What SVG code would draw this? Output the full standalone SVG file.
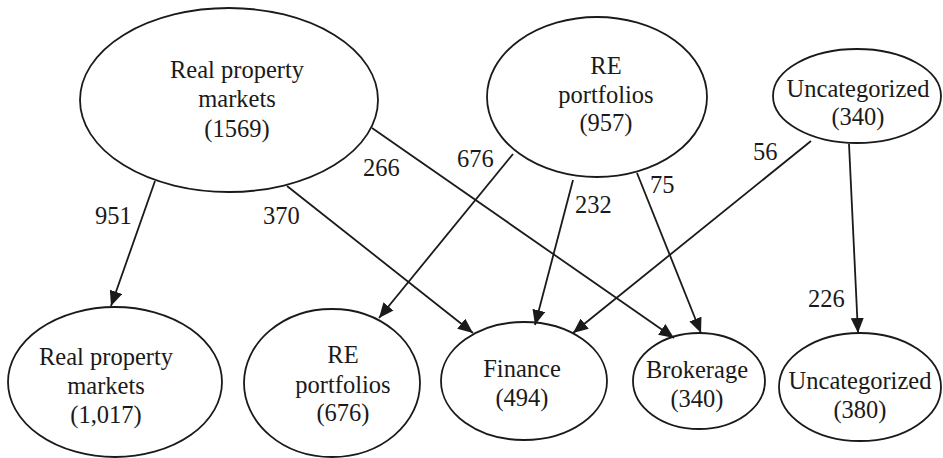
<svg xmlns="http://www.w3.org/2000/svg" width="943" height="458" viewBox="0 0 943 458">
<style>
.n{fill:none;stroke:#1a1a1a;stroke-width:1.8}
.t{font-family:"Liberation Serif","Times New Roman",serif;font-size:24.5px;fill:#1a1a1a;text-anchor:middle}
.l{font-family:"Liberation Serif","Times New Roman",serif;font-size:24.5px;fill:#1a1a1a}
.e{stroke:#1a1a1a;stroke-width:1.8;fill:none;marker-end:url(#ah)}
</style>
<defs>
<marker id="ah" markerUnits="userSpaceOnUse" markerWidth="16" markerHeight="13" refX="15" refY="6.5" orient="auto">
<path d="M0,0 L15,6.5 L0,13 z" fill="#1a1a1a"/>
</marker>
</defs>
<rect width="943" height="458" fill="#ffffff"/>
<g id="edges">
<line class="e" x1="155" y1="181" x2="111" y2="306"/>
<line class="e" x1="287" y1="186" x2="473" y2="333"/>
<line class="e" x1="372" y1="128" x2="674" y2="338"/>
<line class="e" x1="513" y1="154" x2="379" y2="318"/>
<line class="e" x1="573" y1="180" x2="535" y2="325"/>
<line class="e" x1="637" y1="173" x2="701" y2="333"/>
<line class="e" x1="811" y1="141" x2="573" y2="333"/>
<line class="e" x1="849" y1="144" x2="858" y2="333"/>
<text class="l" x="95" y="224">951</text>
<text class="l" x="263" y="224">370</text>
<text class="l" x="363" y="176">266</text>
<text class="l" x="457" y="167">676</text>
<text class="l" x="575" y="213">232</text>
<text class="l" x="650" y="193">75</text>
<text class="l" x="753" y="160">56</text>
<text class="l" x="808" y="307">226</text>
</g>
<g id="src-real-property">
<ellipse class="n" cx="229" cy="100" rx="149" ry="92"/>
<text class="t" x="237" y="78">Real property</text>
<text class="t" x="237" y="107">markets</text>
<text class="t" x="237" y="137">(1569)</text>
</g>
<g id="src-re-portfolios">
<ellipse class="n" cx="597" cy="97" rx="110" ry="80"/>
<text class="t" x="606" y="74">RE</text>
<text class="t" x="606" y="103">portfolios</text>
<text class="t" x="606" y="131">(957)</text>
</g>
<g id="src-uncategorized">
<ellipse class="n" cx="857" cy="96" rx="84" ry="47"/>
<text class="t" x="858" y="97">Uncategorized</text>
<text class="t" x="858" y="125">(340)</text>
</g>
<g id="dst-real-property">
<ellipse class="n" cx="115" cy="382" rx="107" ry="75"/>
<text class="t" x="106" y="365">Real property</text>
<text class="t" x="106" y="394">markets</text>
<text class="t" x="106" y="423">(1,017)</text>
</g>
<g id="dst-re-portfolios">
<ellipse class="n" cx="332" cy="383" rx="88" ry="74"/>
<text class="t" x="343" y="363">RE</text>
<text class="t" x="343" y="393">portfolios</text>
<text class="t" x="343" y="421">(676)</text>
</g>
<g id="dst-finance">
<ellipse class="n" cx="524" cy="381" rx="83" ry="59"/>
<text class="t" x="522" y="377">Finance</text>
<text class="t" x="522" y="406">(494)</text>
</g>
<g id="dst-brokerage">
<ellipse class="n" cx="699" cy="381" rx="66" ry="48"/>
<text class="t" x="697" y="378">Brokerage</text>
<text class="t" x="697" y="407">(340)</text>
</g>
<g id="dst-uncategorized">
<ellipse class="n" cx="860" cy="387" rx="81" ry="54"/>
<text class="t" x="860" y="389">Uncategorized</text>
<text class="t" x="860" y="418">(380)</text>
</g>
</svg>
